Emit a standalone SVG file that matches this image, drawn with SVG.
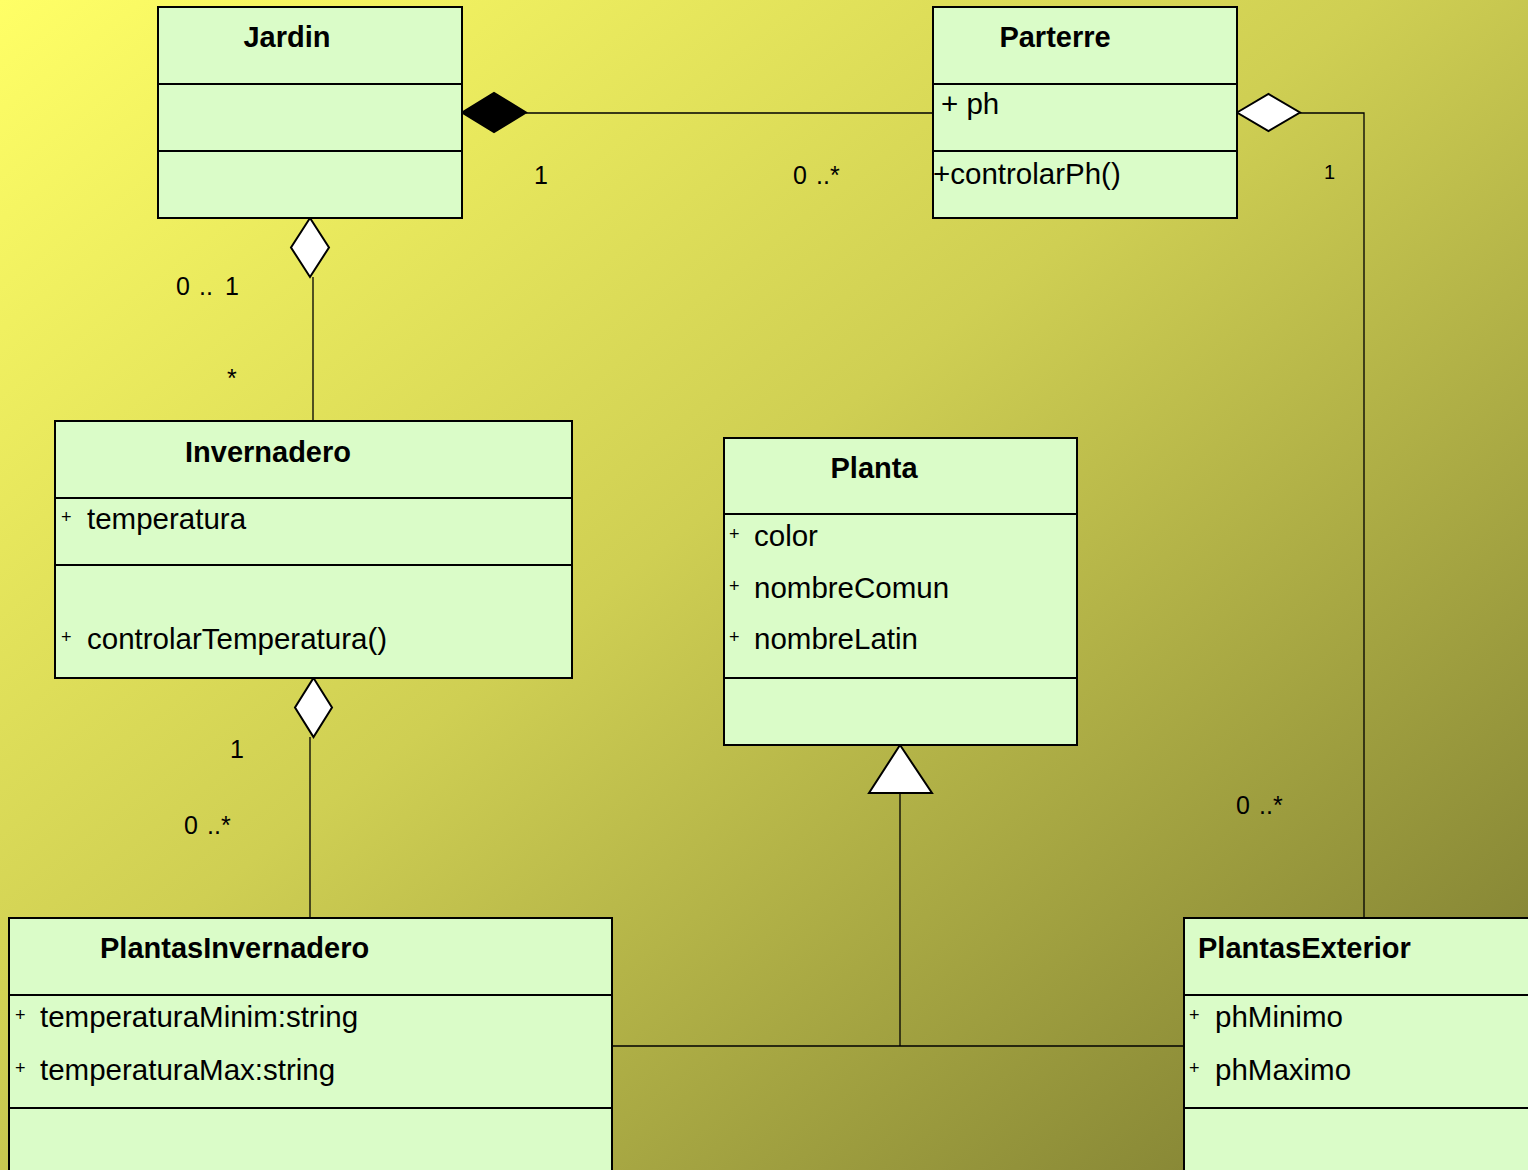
<svg xmlns="http://www.w3.org/2000/svg" width="1528" height="1170" viewBox="0 0 1528 1170">
<defs>
<linearGradient id="bg" x1="0" y1="0" x2="1" y2="1">
<stop offset="0" stop-color="#FFFF66"/>
<stop offset="0.45" stop-color="#CFCF53"/>
<stop offset="1" stop-color="#77772F"/>
</linearGradient>
<style>
.box{fill:#DAFCC8;stroke:#000;stroke-width:2}
.div{stroke:#000;stroke-width:2}
.t{font-family:"Liberation Sans",Arial,sans-serif;font-weight:bold;font-size:29px;fill:#000}
.a{font-family:"Liberation Sans",Arial,sans-serif;font-size:29.5px;fill:#000}
.p{font-family:"Liberation Sans",Arial,sans-serif;font-size:18px;fill:#000}
.m{font-family:"Liberation Sans",Arial,sans-serif;font-size:25px;fill:#000}
.ms{font-family:"Liberation Sans",Arial,sans-serif;font-size:20px;fill:#000}
.ln{fill:none;stroke:#000;stroke-width:1.3}
.od{fill:#fff;stroke:#000;stroke-width:2}
.fd{fill:#000;stroke:#000;stroke-width:2}
</style>
</defs>
<rect width="1528" height="1170" fill="url(#bg)"/>

<g id="connectors">
<line class="ln" x1="526" y1="113" x2="933" y2="113"/>
<polygon class="fd" points="462,112.5 494,93 526,112.5 494,132"/>
<polyline class="ln" points="1300,113 1364,113 1364,918"/>
<polygon class="od" points="1237,112.5 1268.5,94 1300,112.5 1268.5,131"/>
<line class="ln" x1="313" y1="277" x2="313" y2="421"/>
<polygon class="od" points="310,218 329,247.5 310,277 291,247.5"/>
<line class="ln" x1="310" y1="737" x2="310" y2="918"/>
<polygon class="od" points="313.5,678 332,707.5 313.5,737 295,707.5"/>
<line class="ln" x1="900" y1="793" x2="900" y2="1046"/>
<line class="ln" x1="612" y1="1046" x2="1184" y2="1046"/>
<polygon class="od" points="900,745 932,793 869,793"/>
<text class="m" x="534" y="184">1</text>
<text class="m" y="184"><tspan x="793">0</tspan><tspan x="816">..*</tspan></text>
<text class="ms" x="1324" y="179">1</text>
<text class="m" y="814"><tspan x="1236">0</tspan><tspan x="1259">..*</tspan></text>
<text class="m" y="295"><tspan x="176">0</tspan><tspan x="199">..</tspan><tspan x="225">1</tspan></text>
<text class="m" x="227" y="387">*</text>
<text class="m" x="230" y="758">1</text>
<text class="m" y="834"><tspan x="184">0</tspan><tspan x="207">..*</tspan></text>
</g>

<g id="Jardin">
<rect class="box" x="158" y="7" width="304" height="211"/>
<line class="div" x1="158" y1="84" x2="462" y2="84"/>
<line class="div" x1="158" y1="151" x2="462" y2="151"/>
<text class="t" x="287" y="47" text-anchor="middle">Jardin</text>
</g>

<g id="Parterre">
<rect class="box" x="933" y="7" width="304" height="211"/>
<line class="div" x1="933" y1="84" x2="1237" y2="84"/>
<line class="div" x1="933" y1="151" x2="1237" y2="151"/>
<text class="t" x="1055" y="47" text-anchor="middle">Parterre</text>
<text class="a" x="941" y="114">+ ph</text>
<text class="a" x="933" y="184">+controlarPh()</text>
</g>

<g id="Invernadero">
<rect class="box" x="55" y="421" width="517" height="257"/>
<line class="div" x1="55" y1="498" x2="572" y2="498"/>
<line class="div" x1="55" y1="565" x2="572" y2="565"/>
<text class="t" x="268" y="462" text-anchor="middle">Invernadero</text>
<text class="p" x="61" y="523">+</text>
<text class="a" x="87" y="529">temperatura</text>
<text class="p" x="61" y="643">+</text>
<text class="a" x="87" y="649">controlarTemperatura()</text>
</g>

<g id="Planta">
<rect class="box" x="724" y="438" width="353" height="307"/>
<line class="div" x1="724" y1="514" x2="1077" y2="514"/>
<line class="div" x1="724" y1="678" x2="1077" y2="678"/>
<text class="t" x="874" y="478" text-anchor="middle">Planta</text>
<text class="p" x="729" y="540">+</text>
<text class="a" x="754" y="546">color</text>
<text class="p" x="729" y="592">+</text>
<text class="a" x="754" y="598">nombreComun</text>
<text class="p" x="729" y="643">+</text>
<text class="a" x="754" y="649">nombreLatin</text>
</g>

<g id="PlantasInvernadero">
<rect class="box" x="9" y="918" width="603" height="262"/>
<line class="div" x1="9" y1="995" x2="612" y2="995"/>
<line class="div" x1="9" y1="1108" x2="612" y2="1108"/>
<text class="t" x="100" y="958">PlantasInvernadero</text>
<text class="p" x="15" y="1021">+</text>
<text class="a" x="40" y="1027">temperaturaMinim:string</text>
<text class="p" x="15" y="1074">+</text>
<text class="a" x="40" y="1080">temperaturaMax:string</text>
</g>

<g id="PlantasExterior">
<rect class="box" x="1184" y="918" width="360" height="262"/>
<line class="div" x1="1184" y1="995" x2="1544" y2="995"/>
<line class="div" x1="1184" y1="1108" x2="1544" y2="1108"/>
<text class="t" x="1198" y="958">PlantasExterior</text>
<text class="p" x="1189" y="1021">+</text>
<text class="a" x="1215" y="1027">phMinimo</text>
<text class="p" x="1189" y="1074">+</text>
<text class="a" x="1215" y="1080">phMaximo</text>
</g>
</svg>
